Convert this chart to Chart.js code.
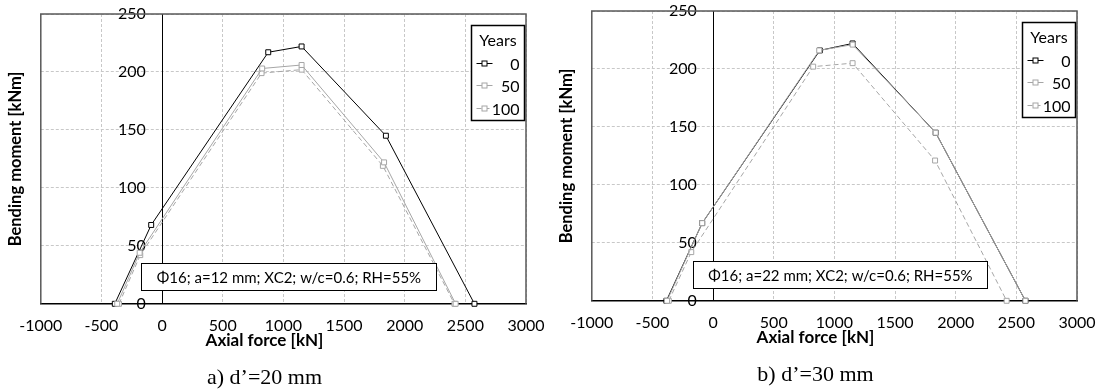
<!DOCTYPE html>
<html>
<head>
<meta charset="utf-8">
<title>M-N interaction</title>
<script src="https://cdn.jsdelivr.net/npm/chart.js"></script>
<style>
  body { margin: 0; background: #fff; }
  .wrap { position: absolute; top: 0; }
</style>
</head>
<body>
<div class="wrap" style="left:0"><canvas id="chart-a" width="550" height="391"></canvas></div>
<div class="wrap" style="left:550px"><canvas id="chart-b" width="552" height="391"></canvas></div>
<script>
// axis ticks
const forceTicks = [-1000, -500, 0, 500, 1000, 1500, 2000, 2500, 3000];
const momentTicks = [0, 50, 100, 150, 200, 250];
const years = ['0', '50', '100'];

// a) d'=20 mm
const nA0 = [-390, -90, 875, 1150, 1845, 2575];
const mA0 = [0, 68, 217, 222, 145, 0];
const nA50 = [-370, -185, 825, 1150, 1830, 2420];
const mA50 = [0, 44, 203, 206, 122, 0];
const nA100 = [-355, -180, 820, 1150, 1820, 2410];
const mA100 = [0, 42, 199, 202, 119, 0];

// b) d'=30 mm
const nB0 = [-385, -90, 880, 1150, 1835, 2575];
const mB0 = [0, 67, 216, 222, 145, 0];
const nB50 = [-380, -90, 875, 1150, 1835, 2575];
const mB50 = [0, 67, 216, 221, 145, 0];
const nB100 = [-365, -180, 825, 1150, 1830, 2420];
const mB100 = [0, 42, 202, 205, 121, 0];

Chart.defaults.font.family = 'Lato';
Chart.defaults.color = '#000';

const pts = (xs, ys) => xs.map((v, i) => ({x: v, y: ys[i]}));

function series(label, xs, ys, color, dash, order) {
    return {
        label: label,
        data: pts(xs, ys),
        showLine: true,
        borderColor: color,
        borderWidth: 1,
        borderDash: dash,
        pointStyle: 'rect',
        pointRadius: 3.5,
        pointBorderWidth: 1,
        pointBorderColor: color,
        pointBackgroundColor: '#fff',
        clip: false,
        order: order
    };
}

// frame, note box and the "Years" legend
const boxes = {
    id: 'boxes',
    afterDatasetsDraw(chart, args, o) {
        const {ctx, chartArea: a, scales: {x, y}} = chart;
        ctx.save();
        ctx.strokeStyle = '#595959';
        ctx.lineWidth = 1.5;
        ctx.beginPath();
        ctx.moveTo(a.left, a.bottom);
        ctx.lineTo(a.left, a.top);
        ctx.lineTo(a.right, a.top);
        ctx.lineTo(a.right, a.bottom);
        ctx.stroke();

        const nl = Math.round(x.getPixelForValue(o.note[0])) + 0.5;
        const nr = Math.round(x.getPixelForValue(o.note[1])) + 0.5;
        const nt = Math.round(y.getPixelForValue(o.note[3])) + 0.5;
        const nb = Math.round(y.getPixelForValue(o.note[2])) + 0.5;
        ctx.fillStyle = '#fff';
        ctx.fillRect(nl, nt, nr - nl, nb - nt);
        ctx.strokeStyle = '#000';
        ctx.lineWidth = 1;
        ctx.strokeRect(nl, nt, nr - nl, nb - nt);
        ctx.fillStyle = '#000';
        ctx.font = '15px Lato';
        ctx.textAlign = 'center';
        ctx.textBaseline = 'middle';
        ctx.fillText(o.text, (nl + nr) / 2, (nt + nb) / 2 + 1);

        const w = 53, h = 95;
        const lx = Math.round(a.right - 2 - w) + 0.5, ly = Math.round(a.top + 11) + 0.5;
        ctx.fillStyle = '#fff';
        ctx.fillRect(lx, ly, w, h);
        ctx.strokeStyle = '#000';
        ctx.lineWidth = 1.5;
        ctx.strokeRect(lx, ly, w, h);
        ctx.fillStyle = '#000';
        ctx.font = '16px Lato';
        ctx.fillText('Years', lx + w / 2, ly + 15);
        const rows = [37, 59, 82];
        chart.data.datasets.forEach((ds, i) => {
            const yy = Math.round(ly + rows[i]) + 0.5;
            ctx.strokeStyle = ds.borderColor;
            ctx.lineWidth = 1;
            ctx.setLineDash(ds.borderDash || []);
            ctx.beginPath();
            ctx.moveTo(lx + 5, yy);
            ctx.lineTo(lx + 21, yy);
            ctx.stroke();
            ctx.setLineDash([]);
            ctx.fillStyle = '#fff';
            ctx.fillRect(lx + 10.5, yy - 2.5, 5, 5);
            ctx.strokeRect(lx + 10.5, yy - 2.5, 5, 5);
            ctx.fillStyle = '#000';
            ctx.textAlign = 'right';
            ctx.fillText(ds.label, lx + w - 5, yy + 1);
        });
        ctx.restore();
    }
};

function makeChart(id, sets, note, caption, pad) {
    return new Chart(document.getElementById(id), {
        type: 'scatter',
        data: {datasets: sets},
        options: {
            responsive: false,
            animation: false,
            devicePixelRatio: 1,
            layout: {padding: pad},
            scales: {
                x: {
                    type: 'linear',
                    position: 'bottom',
                    min: forceTicks[0],
                    max: forceTicks[forceTicks.length - 1],
                    ticks: {stepSize: forceTicks[1] - forceTicks[0], padding: 5, font: {size: 16, lineHeight: 2.075},
                            callback: v => String(v)},
                    grid: {color: '#c8c8c8', drawTicks: false},
                    border: {color: '#000', width: 1.5, dash: [3, 2]}
                },
                y: {
                    type: 'linear',
                    position: {x: 0},
                    min: momentTicks[0],
                    max: momentTicks[momentTicks.length - 1],
                    // labels of an axis placed at x=0 sit flush on the line, so pad with spaces
                    ticks: {stepSize: momentTicks[1] - momentTicks[0], padding: 0, font: {size: 16},
                            callback: v => v + '    '},
                    grid: {color: '#c8c8c8', drawTicks: false},
                    border: {color: '#000', width: 1, dash: [3, 2]}
                },
                yt: {
                    type: 'linear',
                    axis: 'y',
                    position: 'left',
                    min: momentTicks[0],
                    max: momentTicks[momentTicks.length - 1],
                    ticks: {display: false},
                    grid: {display: false, drawTicks: false},
                    border: {display: false},
                    title: {display: true, text: 'Bending moment [kNm]', font: {size: 16.5, weight: 'bold', lineHeight: 1.2},
                            padding: {top: 3, bottom: 15}}
                }
            },
            plugins: {
                legend: {display: false},
                tooltip: {enabled: false},
                subtitle: {display: true, position: 'bottom', text: 'Axial force [kN]', color: '#000',
                           font: {size: 17, weight: 'bold', lineHeight: 0.75}, padding: {top: -13.3, bottom: 0}},
                title: {display: true, position: 'bottom', text: caption, color: '#000',
                        font: {family: 'Liberation Serif', size: 22, weight: 'normal', lineHeight: 1}, padding: {top: 21, bottom: 0}},
                boxes: {note: note.box, text: note.text}
            }
        },
        plugins: [boxes]
    });
}

makeChart('chart-a', [
    series(years[0], nA0, mA0, '#000', [], 1),
    series(years[1], nA50, mA50, '#a6a6a6', [], 0),
    series(years[2], nA100, mA100, '#a6a6a6', [5, 3], 0)
], {box: [-178, 2262, 12, 35], text: 'Φ16; a=12 mm; XC2; w/c=0.6; RH=55%'}, 'a) d\u2019=20 mm',
   {left: 3, top: 14, right: 24, bottom: 1});

makeChart('chart-b', [
    series(years[0], nB0, mB0, '#000', [], 1),
    series(years[1], nB50, mB50, '#a6a6a6', [], 0),
    series(years[2], nB100, mB100, '#a6a6a6', [5, 3], 0)
], {box: [-164, 2259, 11, 34], text: 'Φ16; a=22 mm; XC2; w/c=0.6; RH=55%'}, 'b) d\u2019=30 mm',
   {left: 4, top: 11, right: 25, bottom: 4});
</script>
</body>
</html>
